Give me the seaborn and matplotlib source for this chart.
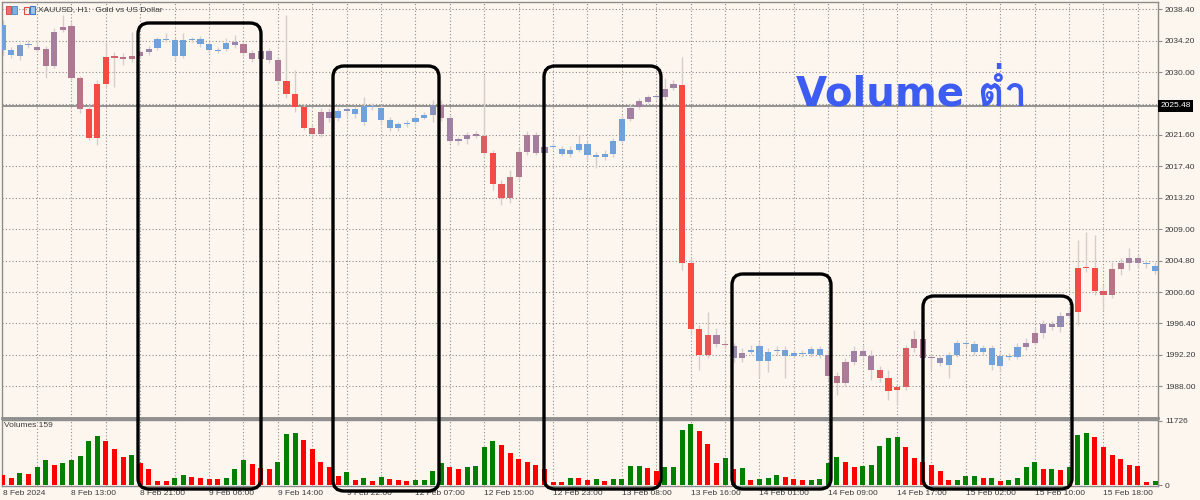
import numpy as np
import matplotlib
matplotlib.use("Agg")
import matplotlib.pyplot as plt
from matplotlib import font_manager
from matplotlib.ft2font import FT2Font
from matplotlib.patches import FancyBboxPatch, Rectangle
import matplotlib.transforms as mtransforms
import seaborn as sns

# XAUUSD H1, 8 Feb 2024 05:00 -> 15 Feb 2024 ~22:00 (135 bars)
opens = [2036.30, 2032.96, 2032.19, 2033.62, 2033.32, 2033.05, 2030.86, 2035.63, 2036.21, 2029.17,
         2025.03, 2021.15, 2028.41, 2031.98, 2031.98, 2031.79, 2032.19, 2032.69, 2033.18, 2034.39,
         2034.29, 2032.15, 2034.29, 2034.43, 2033.72, 2032.82, 2033.05, 2033.99, 2033.72, 2032.51,
         2031.71, 2032.86, 2031.58, 2028.85, 2027.07, 2025.29, 2022.57, 2021.69, 2024.67, 2023.82,
         2024.84, 2025.03, 2023.29, 2025.47, 2025.16, 2023.60, 2022.49, 2023.02, 2023.29, 2023.90,
         2024.27, 2025.60, 2023.82, 2020.83, 2021.02, 2021.73, 2021.50, 2019.14, 2015.04, 2013.17,
         2015.94, 2019.36, 2021.59, 2019.23, 2020.03, 2019.68, 2019.01, 2019.59, 2020.35, 2018.88,
         2018.69, 2019.01, 2020.83, 2023.77, 2025.37, 2026.04, 2026.63, 2026.71, 2027.83, 2028.28,
         2004.44, 1995.61, 1992.18, 1994.85, 1993.65, 1993.38, 1991.74, 1992.62, 1993.38, 1991.42,
         1992.75, 1992.85, 1992.08, 1992.27, 1992.31, 1992.94, 1992.18, 1989.37, 1988.39, 1991.20,
         1992.75, 1992.08, 1990.17, 1989.14, 1987.50, 1987.90, 1993.07, 1994.32, 1991.74, 1991.74,
         1990.84, 1992.18, 1993.69, 1993.65, 1992.54, 1993.07, 1990.75, 1991.87, 1991.95, 1993.21,
         1993.82, 1995.16, 1996.28, 1995.96, 1997.39, 1997.97, 2003.77, 2003.77, 2000.73, 2000.20,
         2003.64, 2004.52, 2005.11, 2004.44, 2004.08]
closes = [2032.96, 2032.29, 2033.62, 2033.72, 2033.00, 2030.86, 2035.40, 2036.07, 2029.17, 2025.03,
          2021.15, 2028.41, 2031.98, 2031.94, 2031.75, 2032.15, 2032.65, 2033.05, 2034.39, 2034.29,
          2032.15, 2034.29, 2034.43, 2033.72, 2032.92, 2033.00, 2033.93, 2033.62, 2032.51, 2031.71,
          2032.86, 2031.58, 2028.85, 2027.07, 2025.29, 2022.57, 2021.69, 2024.67, 2023.82, 2024.80,
          2025.07, 2024.36, 2025.47, 2025.33, 2023.60, 2022.49, 2023.02, 2023.24, 2023.90, 2024.31,
          2025.60, 2023.82, 2020.83, 2021.06, 2021.63, 2021.46, 2019.14, 2015.04, 2013.17, 2015.94,
          2019.36, 2021.59, 2019.23, 2020.03, 2020.12, 2019.01, 2019.59, 2020.35, 2018.92, 2018.69,
          2019.01, 2020.83, 2023.69, 2025.24, 2026.18, 2026.63, 2026.71, 2027.70, 2028.37, 2004.44,
          1995.61, 1992.18, 1994.85, 1993.65, 1993.47, 1991.74, 1992.48, 1992.85, 1991.42, 1992.62,
          1992.85, 1992.08, 1992.40, 1992.40, 1992.94, 1992.18, 1989.37, 1988.39, 1991.20, 1992.75,
          1992.08, 1990.17, 1989.14, 1987.36, 1987.90, 1993.07, 1994.32, 1991.74, 1991.78, 1991.07,
          1992.18, 1993.74, 1993.82, 1992.54, 1993.07, 1990.84, 1992.08, 1992.08, 1993.21, 1993.82,
          1995.16, 1996.28, 1995.96, 1997.39, 1997.83, 2003.77, 2003.85, 2000.73, 2000.20, 2003.64,
          2004.44, 2005.11, 2004.52, 2004.30, 2003.45]
highs = [2036.97, 2033.36, 2033.89, 2034.29, 2034.29, 2033.49, 2035.90, 2037.63, 2036.70, 2029.48,
         2025.60, 2028.95, 2034.03, 2032.69, 2032.55, 2035.36, 2032.96, 2033.49, 2034.69, 2035.23,
         2034.56, 2035.23, 2034.69, 2034.83, 2034.03, 2033.36, 2034.56, 2034.96, 2034.03, 2032.96,
         2033.36, 2033.22, 2032.02, 2037.63, 2030.28, 2025.74, 2023.06, 2025.20, 2025.20, 2025.20,
         2025.47, 2025.47, 2026.67, 2025.87, 2025.60, 2024.00, 2023.33, 2023.60, 2024.27, 2024.67,
         2026.27, 2026.27, 2024.27, 2021.33, 2021.99, 2022.13, 2029.61, 2019.59, 2015.58, 2016.91,
         2019.85, 2022.13, 2021.99, 2020.39, 2020.52, 2020.12, 2020.12, 2021.59, 2020.93, 2019.32,
         2019.59, 2021.19, 2024.27, 2025.74, 2026.54, 2026.94, 2027.07, 2029.21, 2028.95, 2032.02,
         2005.15, 1996.19, 1997.93, 1995.79, 1994.19, 1993.78, 1993.11, 1993.51, 1993.91, 1993.11,
         1993.38, 1993.38, 1992.85, 1992.85, 1993.38, 1993.38, 1992.85, 1989.90, 1991.78, 1993.38,
         1993.51, 1992.85, 1990.71, 1990.17, 1988.30, 1993.51, 1995.52, 1994.72, 1992.31, 1992.04,
         1992.58, 1994.19, 1994.19, 1994.05, 1993.51, 1993.51, 1992.58, 1992.45, 1993.78, 1994.45,
         1995.79, 1996.86, 1996.72, 1997.93, 1998.33, 2007.55, 2008.62, 2008.22, 2001.54, 2004.61,
         2005.15, 2006.48, 2005.68, 2004.88, 2004.61]
lows = [2032.29, 2031.89, 2031.62, 2033.22, 2032.69, 2029.21, 2030.55, 2035.36, 2028.95, 2024.53,
        2020.93, 2020.26, 2027.87, 2028.01, 2030.95, 2031.35, 2031.89, 2032.29, 2032.96, 2034.03,
        2031.62, 2031.89, 2034.03, 2033.36, 2032.55, 2032.55, 2032.82, 2033.22, 2032.15, 2031.35,
        2031.35, 2031.22, 2028.41, 2026.54, 2024.67, 2022.26, 2021.33, 2021.33, 2023.33, 2023.46,
        2024.13, 2023.87, 2022.93, 2024.94, 2022.93, 2022.13, 2022.13, 2022.66, 2022.93, 2023.73,
        2023.33, 2023.46, 2020.52, 2020.26, 2020.39, 2021.19, 2018.79, 2014.24, 2012.23, 2012.50,
        2015.58, 2018.92, 2018.92, 2018.79, 2019.72, 2018.79, 2018.65, 2019.32, 2018.25, 2017.18,
        2018.25, 2018.65, 2020.52, 2023.46, 2025.07, 2025.87, 2026.40, 2026.27, 2027.61, 2003.54,
        1994.85, 1990.17, 1991.78, 1993.25, 1993.11, 1991.24, 1991.24, 1992.31, 1989.24, 1989.90,
        1992.18, 1989.10, 1991.78, 1991.91, 1991.91, 1991.78, 1988.84, 1986.83, 1988.03, 1990.84,
        1991.51, 1988.84, 1988.57, 1986.16, 1985.49, 1987.50, 1992.58, 1991.24, 1990.17, 1990.71,
        1989.10, 1991.91, 1993.25, 1992.18, 1992.18, 1990.17, 1989.90, 1991.51, 1991.64, 1992.85,
        1993.51, 1994.45, 1995.52, 1995.25, 1997.12, 1996.19, 2003.28, 2000.20, 1998.20, 1999.80,
        2002.87, 2003.54, 2003.81, 2003.81, 2002.99]
volumes = [1770, 1280, 2135, 1950, 3300, 4575, 3720, 4090, 4515, 5300,
           7990, 8900, 8110, 6590, 5185, 5430, 3965, 2870, 730, 670,
           1340, 1770, 1400, 1220, 1040, 1040, 1280, 2870, 4640, 3900,
           3170, 2990, 4270, 9270, 9580, 8300, 6530, 4210, 3355, 1590,
           2440, 850, 1220, 790, 1400, 1160, 975, 800, 850, 915,
           2500, 3965, 3230, 2870, 3230, 3480, 6890, 8110, 7380, 5920,
           4700, 4210, 3660, 2930, 610, 490, 1300, 1250, 915, 1040,
           790, 1040, 1160, 3420, 3480, 3170, 2620, 3300, 3320, 10070,
           11100, 9880, 7440, 3965, 5000, 2870, 3170, 850, 1040, 1340,
           1890, 1525, 1040, 830, 870, 1040, 4090, 5185, 4150, 3300,
           3420, 3660, 7200, 8600, 8850, 7015, 5000, 4300, 3600, 2560,
           850, 900, 1590, 1650, 1300, 1340, 790, 915, 1220, 3230,
           4210, 2870, 2990, 2745, 3300, 9090, 9455, 8720, 6950, 5430,
           4700, 3600, 3420, 610, 790]

date_labels = ["8 Feb 2024", "8 Feb 13:00", "8 Feb 21:00", "9 Feb 06:00", "9 Feb 14:00",
               "9 Feb 22:00", "12 Feb 07:00", "12 Feb 15:00", "12 Feb 23:00", "13 Feb 08:00",
               "13 Feb 16:00", "14 Feb 01:00", "14 Feb 09:00", "14 Feb 17:00", "15 Feb 02:00",
               "15 Feb 10:00", "15 Feb 18:00"]
price_ticks = [2038.40, 2034.20, 2030.00, 2021.60, 2017.40, 2013.20, 2009.00,
               2004.80, 2000.60, 1996.40, 1992.20, 1988.00]
price_grid = [2038.40, 2034.20, 2030.00, 2025.80, 2021.60, 2017.40, 2013.20, 2009.00,
              2004.80, 2000.60, 1996.40, 1992.20, 1988.00]
current_price = 2025.48
vol_max = 11726
volume_label = "Volumes 159"
symbol_title = "XAUUSD, H1:  Gold vs US Dollar"
headline = "Volume ต่ำ"

# boxes drawn over the chart (pixel coords: left, top, right, bottom)
boxes = [(138, 23, 261, 489), (333, 66, 439, 491), (544, 66, 661, 489),
         (732, 274, 831, 489), (923, 296, 1072, 489)]


def thai_family():
    for f in font_manager.fontManager.ttflist:
        try:
            if 0x0E15 in FT2Font(f.fname).get_charmap():
                return f.name
        except Exception:
            pass
    return None


sns.set_theme(style="white")
BG = "#fdf6ef"
TXT = "#3a3a3a"
GRID = "#8c8c8c"
plt.rcParams["font.family"] = ["Liberation Sans", "DejaVu Sans"]

n = len(opens)
idx = np.arange(n)
o = np.array(opens); c = np.array(closes)
vol = np.array(volumes)

# candle colour follows volume: blue (quiet) -> purple -> red (busy)
stops_v = [1800, 3000, 6000, 8000]
stops_c = np.array([[0x6f, 0xa1, 0xda], [0x9c, 0x83, 0xa8], [0xc2, 0x6d, 0x7c], [0xf4, 0x4c, 0x44]]) / 255
cc = np.column_stack([np.interp(vol, stops_v, stops_c[:, k]) for k in range(3)])

fig = plt.figure(figsize=(12, 5), dpi=100, facecolor=BG)
W, H = 1200, 500
ax = fig.add_axes([2 / W, 1 - 418 / H, 1156 / W, 416 / H], facecolor=BG)
vax = fig.add_axes([2 / W, 1 - 486 / H, 1156 / W, 66 / H], facecolor=BG)

xmin = -0.7 / 8.6
xmax = xmin + 1156 / 8.6
for a in (ax, vax):
    a.set_xlim(xmin, xmax)
    for s in a.spines.values():
        s.set_color(GRID)
        s.set_linewidth(1)

ax.set_ylim(2039.643 - 418 / 7.48, 2039.643 - 2 / 7.48)
ax.spines["bottom"].set_linewidth(2)

# grid
for p in price_grid:
    ax.axhline(p, color=GRID, lw=0.8, ls=(0, (1, 2)), zorder=0)
for i in range(4, n, 4):
    ax.axvline(i, color=GRID, lw=0.8, ls=(0, (1, 2)), zorder=0)
    vax.axvline(i, color=GRID, lw=0.8, ls=(0, (1, 2)), zorder=0)
ax.axhline(current_price, color="#8a8a8a", lw=1.3, zorder=1)

# candles
ax.vlines(idx, lows, highs, color="#d6cdca", lw=1, zorder=2)
body_lo = np.minimum(o, c)
body_h = np.maximum(np.abs(c - o), 0.15)
ax.bar(idx, body_h, bottom=body_lo, width=0.7, color=cc, linewidth=0, zorder=3)

ax.yaxis.tick_right()
ax.set_yticks(price_ticks)
ax.set_yticklabels([f"{p:.2f}" for p in price_ticks])
ax.tick_params(axis="y", direction="out", length=3, width=0.8, color=GRID, pad=2,
               labelsize=6, labelcolor=TXT)
ax.set_xticks([])
ax.text(1.002, current_price, f"{current_price:.2f}",
        transform=mtransforms.blended_transform_factory(ax.transAxes, ax.transData),
        ha="left", va="center", fontsize=6, color="white",
        bbox=dict(boxstyle="square,pad=0.25", fc="black", ec="none"))

# volumes
vol_dir = ["up" if i > 0 and vol[i] > vol[i - 1] else "down" for i in range(n)]
sns.barplot(x=idx, y=vol, hue=vol_dir, palette={"up": "#007f00", "down": "#ff0000"},
            native_scale=True, dodge=False, width=0.6, legend=False, linewidth=0,
            saturation=1, ax=vax, zorder=3)
vax.set_xlim(xmin, xmax)
vax.set_ylim(-183, (485 - 420) * 183)
vax.yaxis.tick_right()
vax.set_yticks([0, vol_max])
vax.set_yticklabels(["0", str(vol_max)])
vax.tick_params(axis="y", direction="out", length=3, width=0.8, color=GRID, pad=2,
                labelsize=6, labelcolor=TXT)
vax.set_xticks(np.arange(0, 8 * len(date_labels), 8))
vax.set_xticklabels(date_labels, ha="left")
vax.tick_params(axis="x", direction="out", length=2, width=0.8, color=GRID, pad=1,
                labelsize=6, labelcolor=TXT)
vax.set_xlabel("")
vax.set_ylabel("")
vax.text(0.002, 0.97, volume_label, transform=vax.transAxes, ha="left", va="top",
         fontsize=6, color=TXT)

# overlay in pixel units for the header icons, highlight boxes and the headline
ov = fig.add_axes([0, 0, 1, 1], facecolor="none")
ov.set_xlim(0, W)
ov.set_ylim(H, 0)
ov.axis("off")

# small chart-window icons before the symbol title
ov.add_patch(Rectangle((6, 6), 5, 8, fc="#f26b6b", ec="#d04040", lw=0.6))
ov.add_patch(Rectangle((12, 6), 5, 8, fc="#7fb0e0", ec="#4a86c0", lw=0.6))
ov.add_patch(Rectangle((24, 7), 5, 7, fc="none", ec="#e04a4a", lw=0.8))
ov.add_patch(Rectangle((30, 6), 5, 8, fc="#9ec4ea", ec="#3c7cc0", lw=0.8))
ov.text(38, 10, symbol_title, ha="left", va="center", fontsize=6, color=TXT)

for (x0, y0, x1, y1) in boxes:
    ov.add_patch(FancyBboxPatch((x0, y0), x1 - x0, y1 - y0,
                                boxstyle="round,pad=0,rounding_size=11",
                                fill=False, ec="black", lw=2.4))

fam = ["DejaVu Sans"]
tf = thai_family()
if tf:
    fam.append(tf)
ov.text(796, 105, headline, ha="left", va="baseline", fontsize=29, fontweight="bold",
        color="#3d5cf2", family=fam)

fig.savefig("out.png", dpi=100, facecolor=BG)
